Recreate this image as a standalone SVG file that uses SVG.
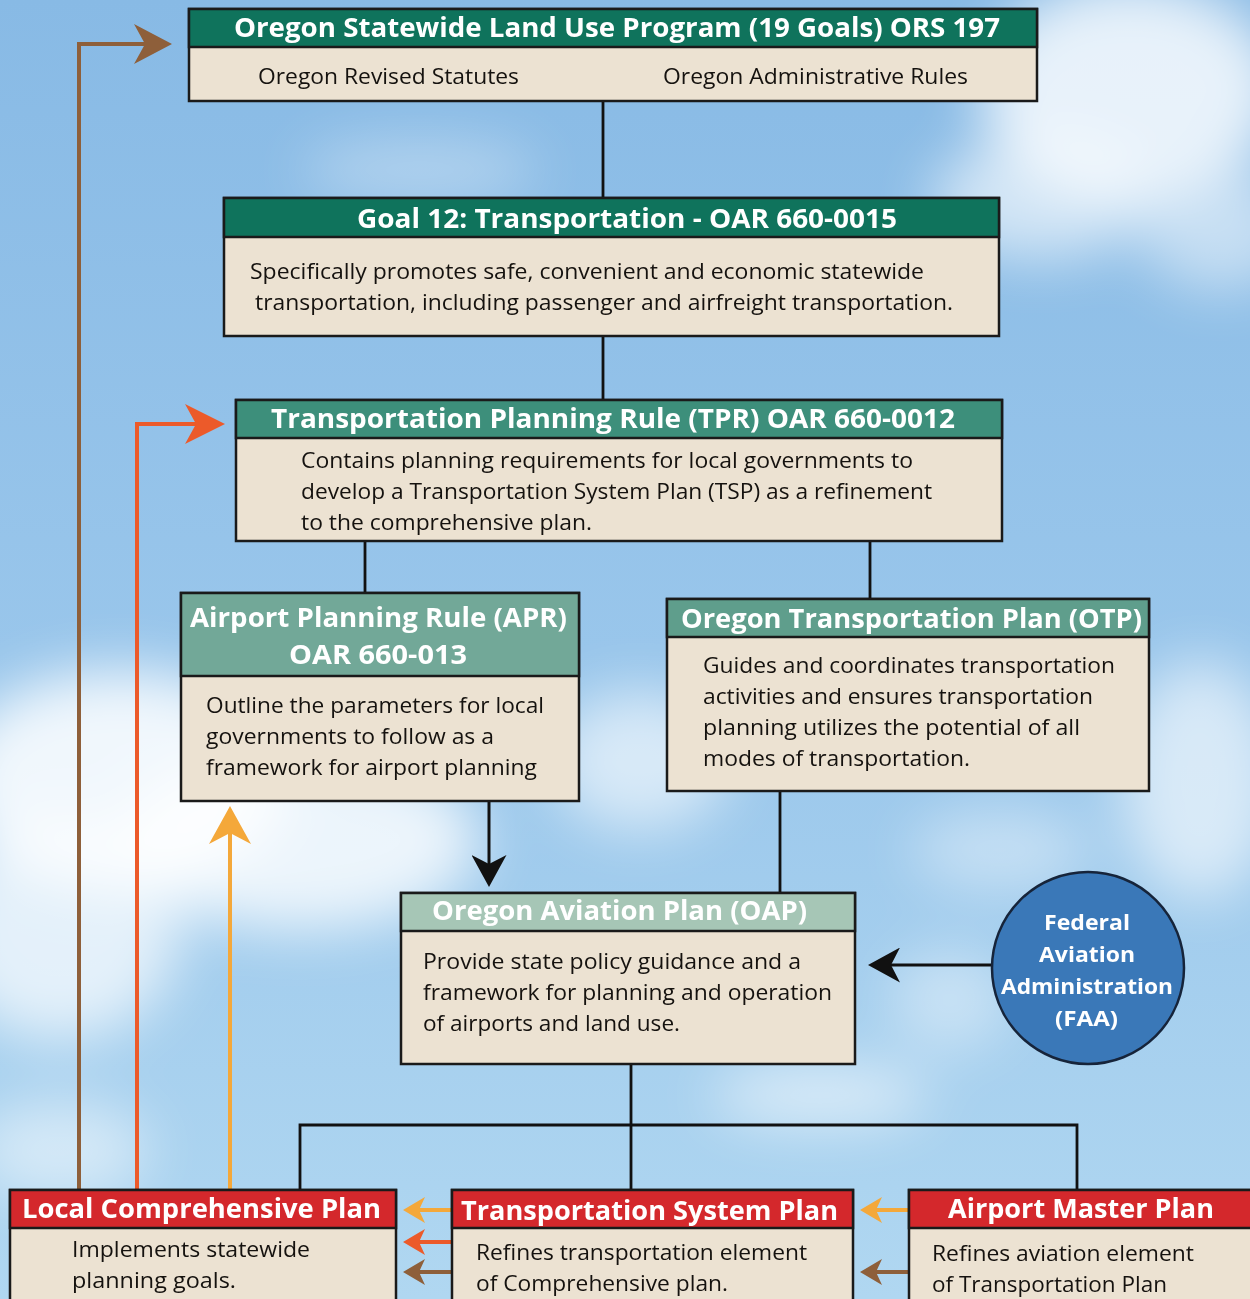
<svg xmlns="http://www.w3.org/2000/svg" width="1250" height="1299" viewBox="0 0 1250 1299">
<style>
.body{fill:#ece2d2;stroke:#1a1a1a;stroke-width:2.5}
.hd{stroke:#1a1a1a;stroke-width:2.5}
.g1{fill:#0f735c}
.g2{fill:#3d8f7b}
.g3{fill:#72a898}
.g4{fill:#5f9e8c}
.g5{fill:#a6c6b6}
.rd{fill:#d4282c}
.ht{font-family:"Open Sans","Noto Sans",sans-serif;font-weight:bold;fill:#ffffff;font-size:26px}
.ft{font-family:"Open Sans","Noto Sans",sans-serif;font-weight:bold;fill:#ffffff;font-size:22px}
.bt{font-family:"Open Sans","Noto Sans",sans-serif;fill:#15120f;font-size:22px}
.ln{fill:none;stroke:#111;stroke-width:2.8}
.ab{fill:none;stroke:#8e5f3a;stroke-width:4}
.ar{fill:none;stroke:#ec5a2a;stroke-width:4}
.ay{fill:none;stroke:#f4a83a;stroke-width:4}
.ak{fill:none;stroke:#111;stroke-width:3}
</style>
<defs>
<linearGradient id="sky" x1="0" y1="0" x2="0" y2="1">
<stop offset="0" stop-color="#88bae5"/>
<stop offset="0.5" stop-color="#99c6eb"/>
<stop offset="1" stop-color="#b0d7f1"/>
</linearGradient>
<filter id="blur" x="-50%" y="-50%" width="200%" height="200%"><feGaussianBlur stdDeviation="28"/></filter>
<marker id="mBrownBig" markerUnits="userSpaceOnUse" viewBox="0 0 38 40" markerWidth="38" markerHeight="40" refX="30" refY="20" orient="auto"><path d="M38,20 L0,0 L11,20 L0,40 Z" fill="#8e5f3a"/></marker>
<marker id="mRedBig" markerUnits="userSpaceOnUse" viewBox="0 0 40 40" markerWidth="40" markerHeight="40" refX="32" refY="20" orient="auto"><path d="M40,20 L0,0 L11,20 L0,40 Z" fill="#ec5a2a"/></marker>
<marker id="mYellowBig" markerUnits="userSpaceOnUse" viewBox="0 0 38 42" markerWidth="38" markerHeight="42" refX="30" refY="21" orient="auto"><path d="M38,21 L0,0 L11,21 L0,42 Z" fill="#f4a83a"/></marker>
<marker id="mYellowS" markerUnits="userSpaceOnUse" viewBox="0 0 22 26" markerWidth="22" markerHeight="26" refX="14" refY="13" orient="auto"><path d="M22,13 L0,0 L6,13 L0,26 Z" fill="#f4a83a"/></marker>
<marker id="mRedS" markerUnits="userSpaceOnUse" viewBox="0 0 22 26" markerWidth="22" markerHeight="26" refX="14" refY="13" orient="auto"><path d="M22,13 L0,0 L6,13 L0,26 Z" fill="#ec5a2a"/></marker>
<marker id="mBrownS" markerUnits="userSpaceOnUse" viewBox="0 0 22 26" markerWidth="22" markerHeight="26" refX="14" refY="13" orient="auto"><path d="M22,13 L0,0 L6,13 L0,26 Z" fill="#8e5f3a"/></marker>
<marker id="mBlack" markerUnits="userSpaceOnUse" viewBox="0 0 32 35" markerWidth="32" markerHeight="35" refX="24" refY="17.5" orient="auto"><path d="M32,17.5 L0,0 L9,17.5 L0,35 Z" fill="#111"/></marker>
</defs>

<rect width="1250" height="1299" fill="url(#sky)"/>
<g id="clouds" filter="url(#blur)" fill="#ffffff">
<ellipse cx="1130" cy="90" rx="150" ry="110" opacity="0.8"/>
<ellipse cx="1040" cy="200" rx="110" ry="60" opacity="0.6"/>
<ellipse cx="1220" cy="230" rx="80" ry="60" opacity="0.5"/>
<ellipse cx="120" cy="780" rx="170" ry="110" opacity="0.85"/>
<ellipse cx="300" cy="840" rx="180" ry="90" opacity="0.8"/>
<ellipse cx="60" cy="930" rx="120" ry="110" opacity="0.7"/>
<ellipse cx="640" cy="760" rx="90" ry="70" opacity="0.6"/>
<ellipse cx="1200" cy="780" rx="80" ry="120" opacity="0.6"/>
<ellipse cx="1000" cy="850" rx="90" ry="40" opacity="0.4"/>
<ellipse cx="820" cy="1095" rx="110" ry="30" opacity="0.6"/>
<ellipse cx="60" cy="1150" rx="90" ry="50" opacity="0.5"/>
<ellipse cx="420" cy="170" rx="120" ry="30" opacity="0.35"/>
<ellipse cx="950" cy="1000" rx="60" ry="50" opacity="0.4"/>
</g>

<g id="connectors">
<path class="ln" d="M603,101 V198"/>
<path class="ln" d="M603,336 V400"/>
<path class="ln" d="M365,541 V593"/>
<path class="ln" d="M870,541 V599"/>
<path class="ln" d="M780,791 V893"/>
<path class="ln" d="M631,1064 V1190"/>
<path class="ln" d="M300,1190 V1125 H1077 V1190"/>
<path class="ak" d="M489,801 V879" marker-end="url(#mBlack)"/>
<path class="ak" d="M992,965 H876" marker-end="url(#mBlack)"/>
<path class="ab" d="M79,1190 V44 H164" marker-end="url(#mBrownBig)"/>
<path class="ar" d="M137,1190 V424 H217" marker-end="url(#mRedBig)"/>
<path class="ay" d="M230,1190 V814" marker-end="url(#mYellowBig)"/>
<path class="ay" d="M452,1210 H411" marker-end="url(#mYellowS)"/>
<path class="ar" d="M452,1242 H411" marker-end="url(#mRedS)"/>
<path class="ab" d="M452,1272 H411" marker-end="url(#mBrownS)"/>
<path class="ay" d="M909,1210 H868" marker-end="url(#mYellowS)"/>
<path class="ab" d="M909,1272 H868" marker-end="url(#mBrownS)"/>
</g>

<g id="land-use-program">
<rect class="body" x="189" y="9" width="848" height="92"/>
<rect class="hd g1" x="189" y="9" width="848" height="38"/>
<text class="ht" x="234" y="37" font-size="25" textLength="766" lengthAdjust="spacingAndGlyphs">Oregon Statewide Land Use Program (19 Goals) ORS 197</text>
<text class="bt" x="258" y="84" textLength="261" lengthAdjust="spacingAndGlyphs">Oregon Revised Statutes</text>
<text class="bt" x="663" y="84" textLength="305" lengthAdjust="spacingAndGlyphs">Oregon Administrative Rules</text>
</g>

<g id="goal-12">
<rect class="body" x="224" y="198" width="775" height="138"/>
<rect class="hd g1" x="224" y="198" width="775" height="39"/>
<text class="ht" x="357" y="228" font-size="25" textLength="540" lengthAdjust="spacingAndGlyphs">Goal 12: Transportation - OAR 660-0015</text>
<text class="bt" x="250" y="279" textLength="674" lengthAdjust="spacingAndGlyphs">Specifically promotes safe, convenient and economic statewide</text>
<text class="bt" x="255" y="310" textLength="698" lengthAdjust="spacingAndGlyphs">transportation, including passenger and airfreight transportation.</text>
</g>

<g id="tpr">
<rect class="body" x="236" y="400" width="766" height="141"/>
<rect class="hd g2" x="236" y="400" width="766" height="38"/>
<text class="ht" x="271" y="428" textLength="684" lengthAdjust="spacingAndGlyphs">Transportation Planning Rule (TPR) OAR 660-0012</text>
<text class="bt" x="301" y="468" textLength="612" lengthAdjust="spacingAndGlyphs">Contains planning requirements for local governments to</text>
<text class="bt" x="301" y="499" textLength="631" lengthAdjust="spacingAndGlyphs">develop a Transportation System Plan (TSP) as a refinement</text>
<text class="bt" x="301" y="530" textLength="291" lengthAdjust="spacingAndGlyphs">to the comprehensive plan.</text>
</g>

<g id="apr">
<rect class="body" x="181" y="593" width="398" height="208"/>
<rect class="hd g3" x="181" y="593" width="398" height="83"/>
<text class="ht" x="190" y="627" textLength="377" lengthAdjust="spacingAndGlyphs">Airport Planning Rule (APR)</text>
<text class="ht" x="289" y="664" textLength="178" lengthAdjust="spacingAndGlyphs">OAR 660-013</text>
<text class="bt" x="206" y="713" textLength="338" lengthAdjust="spacingAndGlyphs">Outline the parameters for local</text>
<text class="bt" x="206" y="744" textLength="288" lengthAdjust="spacingAndGlyphs">governments to follow as a</text>
<text class="bt" x="206" y="775" textLength="331" lengthAdjust="spacingAndGlyphs">framework for airport planning</text>
</g>

<g id="otp">
<rect class="body" x="667" y="599" width="482" height="192"/>
<rect class="hd g4" x="667" y="599" width="482" height="38"/>
<text class="ht" x="681" y="628" textLength="461" lengthAdjust="spacingAndGlyphs">Oregon Transportation Plan (OTP)</text>
<text class="bt" x="703" y="673" textLength="412" lengthAdjust="spacingAndGlyphs">Guides and coordinates transportation</text>
<text class="bt" x="703" y="704" textLength="390" lengthAdjust="spacingAndGlyphs">activities and ensures transportation</text>
<text class="bt" x="703" y="735" textLength="377" lengthAdjust="spacingAndGlyphs">planning utilizes the potential of all</text>
<text class="bt" x="703" y="766" textLength="267" lengthAdjust="spacingAndGlyphs">modes of transportation.</text>
</g>

<g id="oap">
<rect class="body" x="401" y="893" width="454" height="171"/>
<rect class="hd g5" x="401" y="893" width="454" height="38"/>
<text class="ht" x="432" y="920" textLength="375" lengthAdjust="spacingAndGlyphs">Oregon Aviation Plan (OAP)</text>
<text class="bt" x="423" y="969" textLength="378" lengthAdjust="spacingAndGlyphs">Provide state policy guidance and a</text>
<text class="bt" x="423" y="1000" textLength="409" lengthAdjust="spacingAndGlyphs">framework for planning and operation</text>
<text class="bt" x="423" y="1031" textLength="257" lengthAdjust="spacingAndGlyphs">of airports and land use.</text>
</g>

<g id="faa">
<circle cx="1088" cy="968" r="96" fill="#3a78b8" stroke="#16243a" stroke-width="2.5"/>
<text class="ft" x="1044" y="930" textLength="86" lengthAdjust="spacingAndGlyphs">Federal</text>
<text class="ft" x="1039" y="962" textLength="96" lengthAdjust="spacingAndGlyphs">Aviation</text>
<text class="ft" x="1001" y="994" textLength="172" lengthAdjust="spacingAndGlyphs">Administration</text>
<text class="ft" x="1055" y="1026" textLength="63" lengthAdjust="spacingAndGlyphs">(FAA)</text>
</g>

<g id="local-comprehensive-plan">
<rect class="body" x="10" y="1190" width="386" height="120"/>
<rect class="hd rd" x="10" y="1190" width="386" height="38"/>
<text class="ht" x="22" y="1218" textLength="359" lengthAdjust="spacingAndGlyphs">Local Comprehensive Plan</text>
<text class="bt" x="72" y="1257" textLength="238" lengthAdjust="spacingAndGlyphs">Implements statewide</text>
<text class="bt" x="72" y="1288" textLength="164" lengthAdjust="spacingAndGlyphs">planning goals.</text>
</g>

<g id="transportation-system-plan">
<rect class="body" x="452" y="1190" width="401" height="120"/>
<rect class="hd rd" x="452" y="1190" width="401" height="38"/>
<text class="ht" x="461" y="1220" textLength="377" lengthAdjust="spacingAndGlyphs">Transportation System Plan</text>
<text class="bt" x="476" y="1260" textLength="331" lengthAdjust="spacingAndGlyphs">Refines transportation element</text>
<text class="bt" x="476" y="1291" textLength="252" lengthAdjust="spacingAndGlyphs">of Comprehensive plan.</text>
</g>

<g id="airport-master-plan">
<rect class="body" x="909" y="1190" width="360" height="120"/>
<rect class="hd rd" x="909" y="1190" width="360" height="38"/>
<text class="ht" x="948" y="1218" textLength="266" lengthAdjust="spacingAndGlyphs">Airport Master Plan</text>
<text class="bt" x="932" y="1261" textLength="262" lengthAdjust="spacingAndGlyphs">Refines aviation element</text>
<text class="bt" x="932" y="1292" textLength="235" lengthAdjust="spacingAndGlyphs">of Transportation Plan</text>
</g>
</svg>
